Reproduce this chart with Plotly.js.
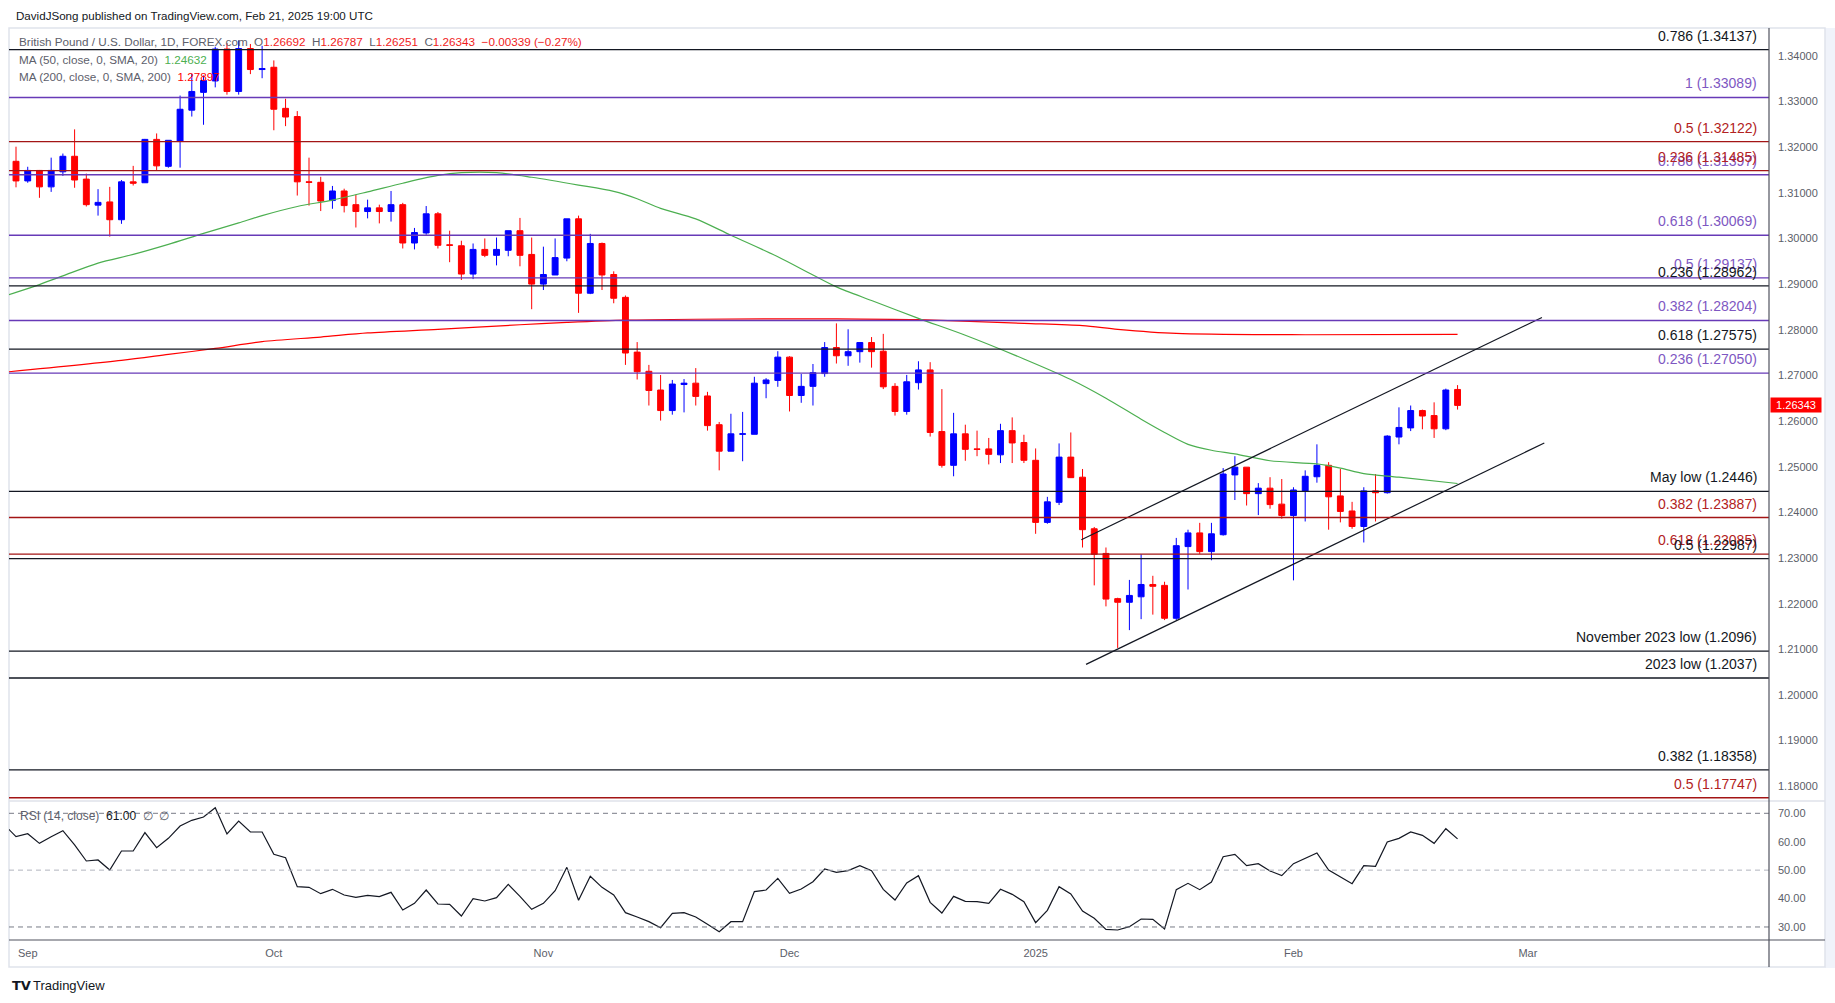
<!DOCTYPE html>
<html><head><meta charset="utf-8">
<script src="https://cdn.plot.ly/plotly-3.0.1.min.js"></script>
<style>html,body{margin:0;padding:0;background:#fff;}#chart{width:1835px;height:1003px;}</style>
</head><body><div id="chart"></div>
<script>
// ---------- DATA ----------
const open = [
1.3169,1.3126,1.3149,1.3113,1.3146,1.3180,1.3130,1.3073,1.3080,1.3041,
1.3124,1.3122,1.3217,1.3158,1.3213,1.3281,1.3320,1.3345,1.3415,1.3322,
1.3416,1.3370,1.3375,1.3285,1.3267,1.3124,1.3123,1.3083,1.3104,1.3074,
1.3059,1.3067,1.3059,1.3074,1.2990,1.3012,1.3054,1.2986,1.2984,1.2922,
1.2976,1.2963,1.2974,1.3017,1.2965,1.2900,1.2920,1.2957,1.3043,1.2880,
1.2989,1.2921,1.2871,1.2751,1.2709,1.2668,1.2623,1.2680,1.2683,1.2655,
1.2592,1.2534,1.2571,1.2571,1.2682,1.2689,1.2740,1.2656,1.2676,1.2704,
1.2761,1.2743,1.2752,1.2772,1.2753,1.2676,1.2621,1.2684,1.2712,1.2577,
1.2503,1.2572,1.2539,1.2539,1.2526,1.2579,1.2553,1.2514,1.2378,1.2422,
1.2521,1.2477,1.2364,1.2310,1.2211,1.2203,1.2215,1.2242,1.2240,1.2168,
1.2325,1.2355,1.2314,1.2351,1.2482,1.2499,1.2441,1.2453,1.2418,1.2393,
1.2447,1.2478,1.2503,1.2436,1.2403,1.2369,1.2447,1.2443,1.2565,1.2585,
1.2623,1.2612,1.2583,1.26692];
const high = [
1.3201,1.3157,1.3150,1.3177,1.3186,1.3239,1.3142,1.3108,1.3113,1.3128,
1.3159,1.3218,1.3230,1.3215,1.3313,1.3360,1.3357,1.3420,1.3428,1.3434,
1.3426,1.3422,1.3390,1.3306,1.3279,1.3177,1.3135,1.3115,1.3109,1.3096,
1.3085,1.3074,1.3104,1.3078,1.3023,1.3071,1.3058,1.3017,1.2995,1.2989,
1.3000,1.3002,1.3017,1.3045,1.3002,1.2982,1.3000,1.3043,1.3050,1.3010,
1.2991,1.2928,1.2875,1.2773,1.2723,1.2701,1.2690,1.2692,1.2716,1.2664,
1.2598,1.2616,1.2620,1.2697,1.2694,1.2753,1.2742,1.2703,1.2725,1.2773,
1.2814,1.2801,1.2772,1.2784,1.2791,1.2683,1.2701,1.2731,1.2729,1.2670,
1.2618,1.2592,1.2579,1.2563,1.2594,1.2608,1.2570,1.2540,1.2434,1.2551,
1.2575,1.2495,1.2368,1.2323,1.2213,1.2252,1.2308,1.2261,1.2248,1.2344,
1.2362,1.2377,1.2377,1.2497,1.2523,1.2499,1.2464,1.2477,1.2473,1.2455,
1.2492,1.2549,1.2510,1.2495,1.2423,1.2455,1.2484,1.2569,1.2630,1.2634,
1.2625,1.2641,1.2671,1.26787];
const low = [
1.3112,1.3122,1.3089,1.3102,1.3137,1.3111,1.3070,1.3050,1.3004,1.3032,
1.3116,1.3122,1.3150,1.3155,1.3155,1.3267,1.3249,1.3331,1.3315,1.3315,
1.3360,1.3351,1.3237,1.3246,1.3094,1.3072,1.3060,1.3065,1.3057,1.3024,
1.3044,1.3033,1.3037,1.2978,1.2976,1.3008,1.2978,1.2948,1.2909,1.2911,
1.2959,1.2941,1.2961,1.2939,1.2845,1.2887,1.2920,1.2950,1.2837,1.2878,
1.2887,1.2858,1.2723,1.2691,1.2634,1.2601,1.2614,1.2619,1.2634,1.2579,
1.2492,1.2534,1.2512,1.2571,1.2650,1.2675,1.2621,1.2640,1.2634,1.2697,
1.2726,1.2721,1.2728,1.2717,1.2670,1.2612,1.2614,1.2669,1.2566,1.2498,
1.2479,1.2513,1.2523,1.2505,1.2508,1.2508,1.2508,1.2353,1.2375,1.2416,
1.2476,1.2323,1.2240,1.2194,1.2103,1.2142,1.2166,1.2176,1.2164,1.2164,
1.2231,1.2309,1.2295,1.2349,1.2427,1.2415,1.2394,1.2408,1.2386,1.2251,
1.2380,1.2465,1.2362,1.2378,1.2364,1.2334,1.2380,1.2441,1.2549,1.2578,
1.2582,1.2563,1.2580,1.26251];
const close = [
1.3126,1.3149,1.3113,1.3149,1.3180,1.3128,1.3074,1.3079,1.3041,1.3124,
1.3121,1.3217,1.3159,1.3215,1.3283,1.3322,1.3346,1.3415,1.3322,1.3416,
1.3370,1.3372,1.3283,1.3266,1.3124,1.3123,1.3082,1.3104,1.3072,1.3059,
1.3067,1.3059,1.3074,1.2990,1.3013,1.3054,1.2985,1.2985,1.2922,1.2976,
1.2963,1.2976,1.3017,1.2963,1.2900,1.2921,1.2958,1.3043,1.2880,1.2989,
1.2920,1.2869,1.2749,1.2708,1.2667,1.2623,1.2681,1.2683,1.2654,1.2590,
1.2534,1.2572,1.2572,1.2683,1.2690,1.2740,1.2656,1.2676,1.2706,1.2761,
1.2743,1.2752,1.2772,1.2752,1.2675,1.2621,1.2686,1.2712,1.2575,1.2503,
1.2572,1.2538,1.2538,1.2527,1.2579,1.2552,1.2514,1.2378,1.2423,1.2521,
1.2476,1.2362,1.2308,1.2210,1.2203,1.2218,1.2242,1.2238,1.2168,1.2327,
1.2355,1.2314,1.2353,1.2484,1.2499,1.2441,1.2453,1.2417,1.2393,1.2449,
1.2479,1.2503,1.2434,1.2402,1.2369,1.2447,1.2443,1.2567,1.2586,1.2623,
1.2611,1.2583,1.2668,1.26343];

// 50-day and 200-day moving averages (bar index, value)
const ma50Idx = [-1,0,2,4,7,10,13,16,19,21,24,27,30,33,36,38,41,44,48,51,53,55,58,61,65,68,70,73,77,81,86,90,93,96,98,100,102,104,107,111,113,115,118,123];
const ma50 = [1.2874,1.2882,1.2899,1.2918,1.2946,1.2965,1.2987,1.3011,1.3034,1.3050,1.3070,1.3084,1.3102,1.3121,1.3138,1.3144,1.3144,1.3134,1.3117,1.3103,1.3087,1.3066,1.3043,1.3007,1.2960,1.2920,1.2894,1.2864,1.2825,1.2788,1.2736,1.2691,1.2650,1.2604,1.2575,1.2549,1.2536,1.2528,1.2513,1.2506,1.2497,1.2485,1.2477,1.24632];
const ma200Idx = [-1,9,13,17,21,26,30,36,43,47,52,58,70,77,86,91,94,99,110,123];
const ma200 = [1.2707,1.2733,1.2746,1.2759,1.2774,1.2784,1.2793,1.2801,1.2811,1.2816,1.2821,1.2823,1.2824,1.2822,1.2814,1.2809,1.2801,1.2792,1.2789,1.27897];

// ascending channel (bar index, price)
const channelUpperIdx = [90.9,130.2];
const channelUpperPx  = [1.2340,1.2827];
const channelLowerIdx = [91.3,130.4];
const channelLowerPx  = [1.2067,1.2552];

// RSI(14), first value belongs to the bar before index 0
const rsiStart = -1;
const rsi = [66.0,
61.78,62.83,59.43,61.78,63.89,58.85,53.22,53.57,50.05,56.74,
56.74,63.19,57.91,61.19,65.53,67.53,68.70,71.98,62.72,67.29,
63.42,63.42,55.56,54.39,44.19,43.95,41.72,43.25,41.25,40.43,
41.14,40.67,42.19,35.97,38.32,43.01,38.09,37.97,33.86,39.96,
39.14,40.32,45.01,40.78,36.21,38.32,42.78,50.99,39.38,47.82,
43.95,41.25,35.04,33.51,31.87,29.76,34.80,35.04,33.51,30.93,
28.35,31.87,31.87,42.43,43.01,47.12,41.84,43.37,45.94,50.40,
49.23,49.82,51.57,49.82,43.25,39.49,45.48,48.06,38.67,34.92,
40.78,39.02,38.91,38.32,43.25,41.49,38.91,31.52,35.86,44.19,
41.61,35.62,33.04,29.17,28.94,30.11,32.81,32.69,29.29,43.13,
45.36,43.13,45.83,54.74,55.56,51.57,52.28,49.70,48.06,52.28,
54.27,56.03,50.05,47.70,45.24,51.57,51.34,59.90,61.19,63.42,
62.25,59.43,64.59,61.00];
const rsiLevels = [70,50,30];
const rsiTicks = [30,40,50,60,70];

// horizontal levels
const levelPrice = [1.34137,1.33089,1.32122,1.31397,1.31485,1.30069,1.29137,1.28962,1.28204,1.27575,1.27050,1.2446,1.23887,1.23085,1.22987,1.2096,1.2037,1.18358,1.17747];
const levelLabel = ['0.786 (1.34137)','1 (1.33089)','0.5 (1.32122)','0.786 (1.31397)','0.236 (1.31485)','0.618 (1.30069)','0.5 (1.29137)','0.236 (1.28962)','0.382 (1.28204)','0.618 (1.27575)','0.236 (1.27050)','May low (1.2446)','0.382 (1.23887)','0.618 (1.23085)','0.5 (1.22987)','November 2023 low (1.2096)','2023 low (1.2037)','0.382 (1.18358)','0.5 (1.17747)'];
const levelSet = ['k','p','r','p','r','p','p','k','p','k','p','k','r','r','k','k','k','k','r'];

// x-axis month ticks (bar index) and labels
const monthTickIdx = [1,22,45,66,87,109,129];
const monthLabels = ['Sep','Oct','Nov','Dec','2025','Feb','Mar'];

// header texts
const headerText = 'DavidJSong published on TradingView.com, Feb 21, 2025 19:00 UTC';
const symbolText = 'British Pound / U.S. Dollar, 1D, FOREX.com';
const changeText = '\u22120.00339 (\u22120.27%)';
const ma50Label = 'MA (50, close, 0, SMA, 20)';
const ma200Label = 'MA (200, close, 0, SMA, 200)';
const rsiLabel = 'RSI (14, close)';

// ---------- LAYOUT GEOMETRY ----------
const W=1835,H=1003,ML=9,MR=66,MT=30,MB=63;
const PW=W-ML-MR, PH=H-MT-MB;
const px = x => (x-ML)/PW;
const py = y => (H-MB-y)/PH;
const splitY = 801;
const pTop = 1.30069 + (235.3-MT)/4565;
const pBot = 1.30069 - (splitY-235.3)/4565;
const rTop = 70 + (813.3-splitY)/2.842;
const rBot = 70 - (H-MB-813.3)/2.842;

const styles = {
  k:{line:'#131722', text:'#131722'},
  p:{line:'#673ab7', text:'#7e57c2'},
  r:{line:'#a31515', text:'#b22222'}
};
const gray='#5d606b', red='#f01c1c';

const idx = open.map((_,i)=>i);
const rsiIdx = rsi.map((_,i)=>i+rsiStart);
const last = close.length-1;

const traces = [
  {type:'candlestick', x:idx, open:open, high:high, low:low, close:close, xaxis:'x', yaxis:'y',
   increasing:{line:{color:'#0000ff',width:1}, fillcolor:'#0000ff'},
   decreasing:{line:{color:'#ff0000',width:1}, fillcolor:'#ff0000'},
   whiskerwidth:0, hoverinfo:'skip'},
  {type:'scatter', mode:'lines', x:ma200Idx, y:ma200, xaxis:'x', yaxis:'y',
   line:{color:'#ff0000', width:1.2, shape:'spline', smoothing:0.8}, hoverinfo:'skip'},
  {type:'scatter', mode:'lines', x:ma50Idx, y:ma50, xaxis:'x', yaxis:'y',
   line:{color:'#4caf50', width:1.2, shape:'spline', smoothing:0.8}, hoverinfo:'skip'},
  {type:'scatter', mode:'lines', x:channelUpperIdx, y:channelUpperPx, xaxis:'x', yaxis:'y',
   line:{color:'#131722', width:1.2}, hoverinfo:'skip'},
  {type:'scatter', mode:'lines', x:channelLowerIdx, y:channelLowerPx, xaxis:'x', yaxis:'y',
   line:{color:'#131722', width:1.2}, hoverinfo:'skip'},
  {type:'scatter', mode:'lines', x:rsiIdx, y:rsi, xaxis:'x', yaxis:'y2',
   line:{color:'#131722', width:1.2}, hoverinfo:'skip'}
];

const shapes = [];
// frame
shapes.push({type:'rect', xref:'paper', yref:'paper', x0:px(1825), x1:px(1835), y0:py(968), y1:py(28), fillcolor:'#f0f3fa', line:{width:0}, layer:'below'});
shapes.push({type:'rect', xref:'paper', yref:'paper', x0:px(9), x1:px(1825), y0:py(967), y1:py(28), line:{color:'#e0e3eb', width:1.5}, layer:'below'});
// levels
levelPrice.forEach((p,i)=>{
  shapes.push({type:'line', xref:'paper', yref:'y', x0:0, x1:1, y0:p, y1:p, line:{color:styles[levelSet[i]].line, width:1.4}});
});
// rsi levels
rsiLevels.forEach(v=>{
  shapes.push({type:'line', xref:'paper', yref:'y2', x0:0, x1:1, y0:v, y1:v, line:{color: v===50 ? '#b2b5be' : '#787b86', width:1, dash:'5px,4px'}});
});
// pane separator, bottom axis, price axis
shapes.push({type:'line', xref:'paper', yref:'paper', x0:0, x1:px(1825), y0:py(splitY), y1:py(splitY), line:{color:'#dfe2ea', width:1.5}});
shapes.push({type:'line', xref:'paper', yref:'paper', x0:0, x1:px(1825), y0:0, y1:0, line:{color:'#50535e', width:1.2}});
shapes.push({type:'line', xref:'paper', yref:'paper', x0:1, x1:1, y0:py(967), y1:py(28), line:{color:'#50535e', width:1.2}});

const annotations = [];
levelPrice.forEach((p,i)=>{
  annotations.push({xref:'paper', yref:'y', x:px(1759), y:p, xanchor:'right', yanchor:'middle', yshift:14,
    text:levelLabel[i], showarrow:false, font:{size:14, color:styles[levelSet[i]].text}});
});
const sp = '\u00a0';
annotations.push({xref:'paper', yref:'paper', x:px(14), y:py(15), xanchor:'left', yanchor:'middle', showarrow:false,
  text:headerText, font:{size:11.6, color:'#131722'}});
annotations.push({xref:'paper', yref:'paper', x:px(17), y:py(42), xanchor:'left', yanchor:'middle', showarrow:false,
  font:{size:11.7, color:gray},
  text: symbolText + sp+sp +
    'O<span style="color:'+red+'">'+open[last].toFixed(5)+'</span>'+sp+sp+
    'H<span style="color:'+red+'">'+high[last].toFixed(5)+'</span>'+sp+sp+
    'L<span style="color:'+red+'">'+low[last].toFixed(5)+'</span>'+sp+sp+
    'C<span style="color:'+red+'">'+close[last].toFixed(5)+'</span>'+sp+sp+
    '<span style="color:'+red+'">'+changeText+'</span>'});
annotations.push({xref:'paper', yref:'paper', x:px(17), y:py(59), xanchor:'left', yanchor:'middle', showarrow:false,
  font:{size:11.7, color:gray}, text: ma50Label+sp+sp+'<span style="color:#4caf50">'+ma50[ma50.length-1].toFixed(5)+'</span>'});
annotations.push({xref:'paper', yref:'paper', x:px(17), y:py(76), xanchor:'left', yanchor:'middle', showarrow:false,
  font:{size:11.7, color:gray}, text: ma200Label+sp+sp+'<span style="color:#ff0000">'+ma200[ma200.length-1].toFixed(5)+'</span>'});
annotations.push({xref:'paper', yref:'paper', x:px(18), y:py(815.7), xanchor:'left', yanchor:'middle', showarrow:false,
  font:{size:12, color:gray}, text: rsiLabel+sp+sp+'<span style="color:#131722">'+rsi[rsi.length-1].toFixed(2)+'</span>'+sp+sp+'\u2205'+sp+sp+'\u2205'});
// last price tag
annotations.push({xref:'paper', yref:'y', x:px(1770), y:close[last], xanchor:'left', yanchor:'middle', showarrow:false,
  text:close[last].toFixed(5), bgcolor:'#ff0000', width:48, height:12, borderpad:1, align:'center',
  font:{size:11, color:'#ffffff'}});
// TradingView footer
annotations.push({xref:'paper', yref:'paper', x:px(10), y:py(985), xanchor:'left', yanchor:'middle', showarrow:false,
  text:'<b>TV</b>', font:{size:13, color:'#131722', family:'DejaVu Sans'}});
annotations.push({xref:'paper', yref:'paper', x:px(31), y:py(985), xanchor:'left', yanchor:'middle', showarrow:false,
  text:'TradingView', font:{size:13, color:'#131722'}});

const layout = {
  width:W, height:H, margin:{l:ML, r:MR, t:MT, b:MB},
  paper_bgcolor:'#ffffff', plot_bgcolor:'#ffffff',
  font:{family:'Liberation Sans, Arial, sans-serif'},
  showlegend:false, boxgap:0.28,
  xaxis:{domain:[0,1], anchor:'y2', range:[(ML-16)/11.72, (W-MR-16)/11.72],
    tickvals:monthTickIdx, ticktext:monthLabels, ticks:'', showgrid:false, zeroline:false, showline:false,
    tickfont:{size:11, color:'#5b5e69'}, ticklabelstandoff:5, rangeslider:{visible:false}, fixedrange:true},
  yaxis:{domain:[py(splitY),1], anchor:'x', side:'right', range:[pBot,pTop], tick0:1.18, dtick:0.01, tickformat:'.5f',
    ticks:'', showgrid:false, zeroline:false, showline:false, tickfont:{size:11, color:'#5b5e69'}, ticklabelstandoff:8, fixedrange:true},
  yaxis2:{domain:[0,py(splitY)], anchor:'x', side:'right', range:[rBot,rTop], tickvals:rsiTicks, tickformat:'.2f',
    ticks:'', showgrid:false, zeroline:false, showline:false, tickfont:{size:11, color:'#5b5e69'}, ticklabelstandoff:8, fixedrange:true},
  shapes:shapes, annotations:annotations
};
Plotly.newPlot('chart', traces, layout, {staticPlot:true, displayModeBar:false});
</script></body></html>
